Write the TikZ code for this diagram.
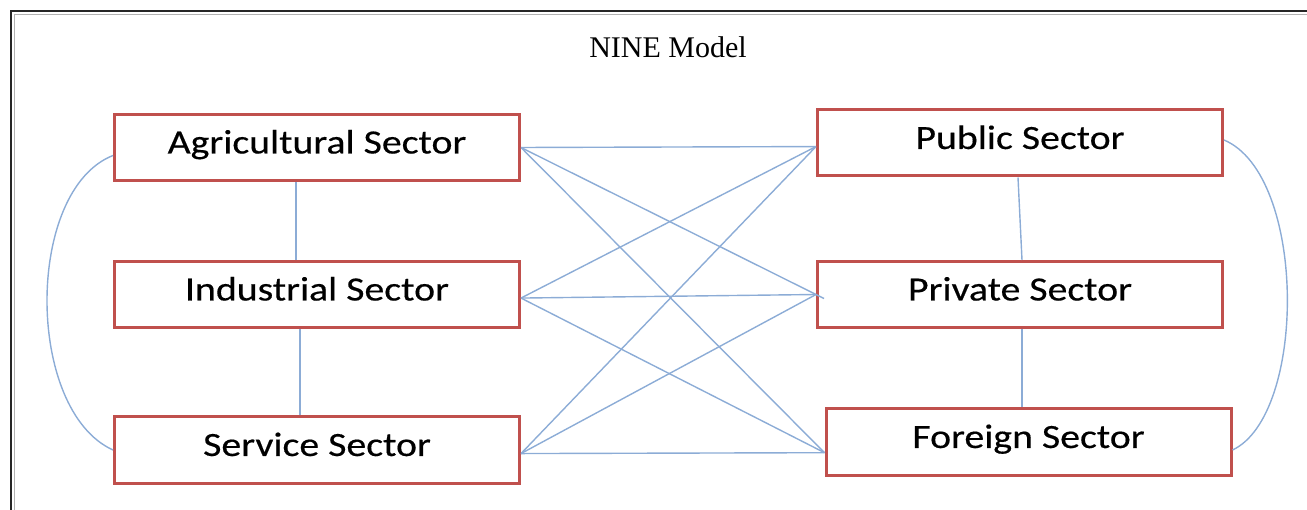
\documentclass[tikz,border=0pt]{standalone}
\usepackage{fontspec}
\setmainfont{Carlito}
\newfontfamily\sectorfont[FakeStretch=1.17, FakeBold=0.4]{Carlito}
\newfontfamily\titlefont{Liberation Serif}
\usetikzlibrary{positioning}
\definecolor{boxred}{RGB}{192,80,77}
\definecolor{linkblue}{RGB}{140,172,214}

\begin{document}
\begin{tikzpicture}[
  x=1pt, y=-1pt,
  sector/.style={draw=boxred, line width=3pt, minimum width=405pt,
                 minimum height=66pt, inner sep=0pt,
                 font=\sectorfont\fontsize{34}{38}\selectfont,
                 text height=25pt, text depth=13pt},
  link/.style={draw=linkblue, line width=1.4pt},
  frame/.style={line width=1.6pt}
]
  \useasboundingbox (0,0) rectangle (1307,510);
  \clip (0,0) rectangle (1307,510);

  % Page frame, double rule
  \draw[frame, black!85] (11,11) rectangle (1330,530);
  \draw[frame, black!30] (14.5,14.5) rectangle (1326,526);

  \node[font=\titlefont\fontsize{30}{33}\selectfont] (title) at (668,47) {NINE Model};

  % Left column
  \node[sector] (agri) at (317,147.5) {Agricultural Sector};
  \node[sector] (ind)  at (317,294.5) {Industrial Sector};
  \node[sector] (serv) at (317,450)   {Service Sector};

  % Right column
  \node[sector] (pub)  at (1020,143)   {Public Sector};
  \node[sector] (priv) at (1020,294.5) {Private Sector};
  \node[sector] (forn) at (1028.5,442) {Foreign Sector};

  % Links inside each column
  \draw[link] ([xshift=-21pt]agri.south) -- ([xshift=-21pt]ind.north);
  \draw[link] ([xshift=-17pt]ind.south) -- ([xshift=-17pt]serv.north);
  \draw[link] ([xshift=-2pt]pub.south) -- ([xshift=2pt]priv.north);
  \draw[link] ([xshift=2pt]priv.south) -- ([xshift=-6.5pt]forn.north);

  % Outer arcs
  \draw[link] ([yshift=-8pt]agri.west) .. controls (25,190) and (25,410) .. (serv.west);
  \draw[link] ([yshift=3pt]pub.east) .. controls (1307,175) and (1307,415) .. ([yshift=-8pt]forn.east);

  % Every left sector to every right sector
  \draw[link] (agri.east) -- (pub.181);
  \draw[link, shorten >=-9pt] (agri.east) -- (priv.west);
  \draw[link] (agri.east) -- (forn.183.5);
  \draw[link] (ind.-1) -- (pub.181);
  \draw[link] (ind.-1) -- (priv.west);
  \draw[link] (ind.-1) -- (forn.183.5);
  \draw[link] (serv.-1.7) -- (pub.181);
  \draw[link] (serv.-1.7) -- (priv.west);
  \draw[link] (serv.-1.7) -- (forn.183.5);
\end{tikzpicture}
\end{document}
